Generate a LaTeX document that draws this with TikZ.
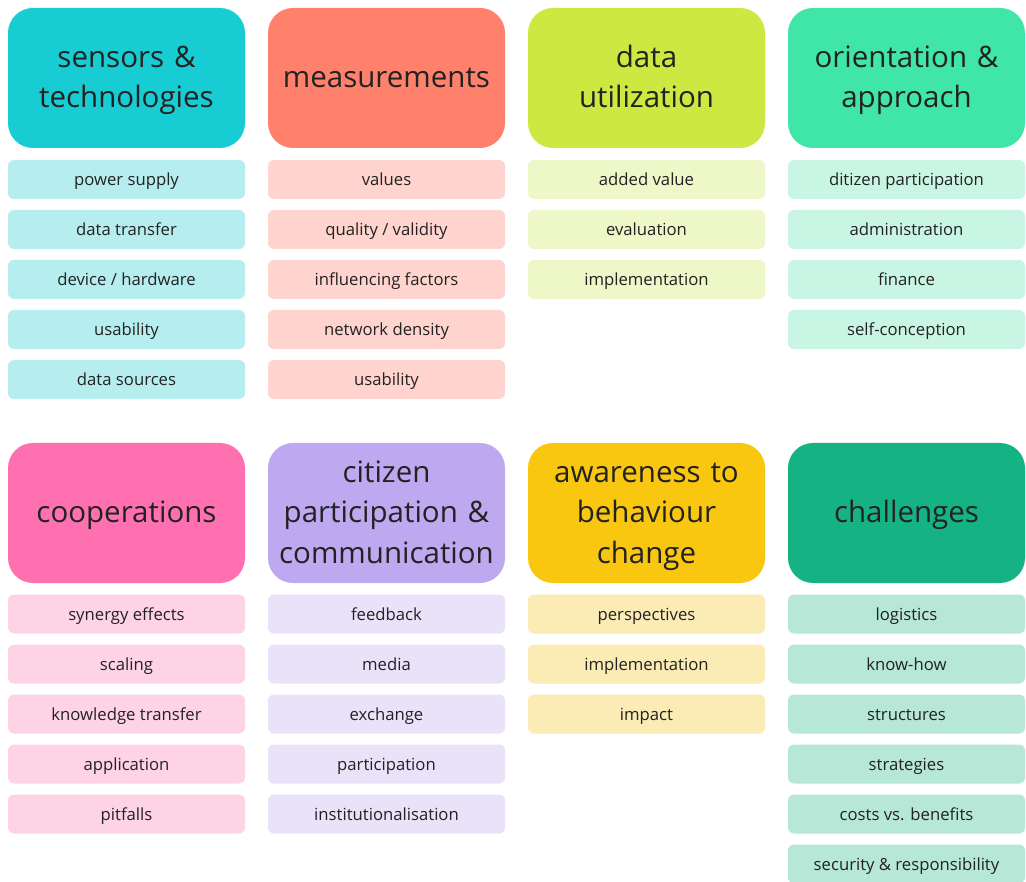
\documentclass[tikz,border=0pt]{standalone}
\usepackage{fontspec}
\setmainfont{Open Sans}
\usepackage{xcolor}
\usepackage{tikz}

\definecolor{sensDark}{HTML}{17CCD3}
\definecolor{sensLight}{HTML}{B6EEF0}
\definecolor{measDark}{HTML}{FF816B}
\definecolor{measLight}{HTML}{FFD4CE}
\definecolor{utilDark}{HTML}{CEE842}
\definecolor{utilLight}{HTML}{EEF7C7}
\definecolor{orieDark}{HTML}{40E5A8}
\definecolor{orieLight}{HTML}{C9F6E4}
\definecolor{coopDark}{HTML}{FF70B0}
\definecolor{coopLight}{HTML}{FFD3E6}
\definecolor{partDark}{HTML}{BEA8EF}
\definecolor{partLight}{HTML}{E9E2F9}
\definecolor{awarDark}{HTML}{F9C610}
\definecolor{awarLight}{HTML}{FBEBB5}
\definecolor{chalDark}{HTML}{15B384}
\definecolor{chalLight}{HTML}{B6E7D7}
\definecolor{ink}{HTML}{222222}

\newcommand{\headtop}{\rule{0pt}{29.8pt}}
\newcommand{\headbot}{\rule[-10.6pt]{0pt}{0pt}}

\tikzset{
  head/.style={rounded corners=25pt, minimum width=237pt, minimum height=140pt,
    text width=234pt, align=center, inner sep=0pt, text=ink,
    font=\fontsize{29.5}{40.5}\selectfont,
    execute at begin node=\headtop, execute at end node=\headbot},
  item/.style={rounded corners=6pt, minimum width=237pt, minimum height=39pt,
    inner sep=0pt, text=ink, font=\fontsize{16.7}{20}\selectfont,
    text height=14pt, text depth=2pt}
}

\begin{document}
\begin{tikzpicture}[x=1pt, y=-1pt]
            \useasboundingbox[fill=white] (0,0) rectangle (1026,882);
            % top row
            \node[head, fill=sensDark] (sens) at (126.5,78) {sensors \&\\technologies};
            \node[head, fill=measDark] (meas) at (386.5,78) {measurements};
            \node[head, fill=utilDark] (util) at (646.5,78) {data\\utilization};
            \node[head, fill=orieDark] (orie) at (906.5,78) {orientation \&\\approach};
            \foreach \txt [count=\i] in {power supply, data transfer, device / hardware, usability, data sources}
              \node[item, fill=sensLight] (sens\i) at (126.5,129.5+50*\i) {\txt};
            \foreach \txt [count=\i] in {values, quality / validity, influencing factors, network density, usability}
              \node[item, fill=measLight] (meas\i) at (386.5,129.5+50*\i) {\txt};
            \foreach \txt [count=\i] in {added value, evaluation, implementation}
              \node[item, fill=utilLight] (util\i) at (646.5,129.5+50*\i) {\txt};
            \foreach \txt [count=\i] in {ditizen participation, administration, finance, self-conception}
              \node[item, fill=orieLight] (orie\i) at (906.5,129.5+50*\i) {\txt};
            % bottom row
            \node[head, fill=coopDark] (coop) at (126.5,513) {cooperations};
            \node[head, fill=partDark] (part) at (386.5,513) {citizen\\participation \&\\communication};
            \node[head, fill=awarDark] (awar) at (646.5,513) {awareness to\\behaviour\\change};
            \node[head, fill=chalDark] (chal) at (906.5,513) {challenges};
            \foreach \txt [count=\i] in {synergy effects, scaling, knowledge transfer, application, pitfalls}
              \node[item, fill=coopLight] (coop\i) at (126.5,564+50*\i) {\txt};
            \foreach \txt [count=\i] in {feedback, media, exchange, participation, institutionalisation}
              \node[item, fill=partLight] (part\i) at (386.5,564+50*\i) {\txt};
            \foreach \txt [count=\i] in {perspectives, implementation, impact}
              \node[item, fill=awarLight] (awar\i) at (646.5,564+50*\i) {\txt};
            \foreach \txt [count=\i] in {logistics, know-how, structures, strategies, costs vs. benefits, security \& responsibility}
              \node[item, fill=chalLight] (chal\i) at (906.5,564+50*\i) {\txt};
        \end{tikzpicture}
\end{document}
